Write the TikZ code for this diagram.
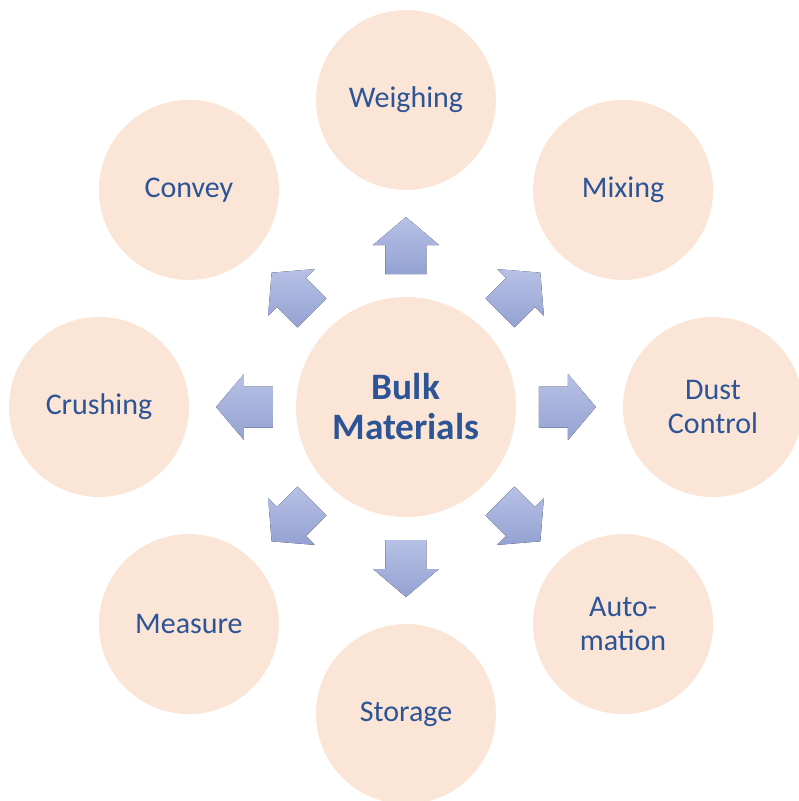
\documentclass[tikz,border=0pt]{standalone}
\usepackage{fontspec}
\setmainfont{Carlito}
\usepackage{tikz}
\definecolor{bulktext}{RGB}{44,84,150}
\definecolor{bulkfill}{RGB}{251,229,214}
\definecolor{arrowtop}{RGB}{183,193,230}
\definecolor{arrowbot}{RGB}{148,162,210}
\tikzset{
    topic/.style={circle, fill=bulkfill, minimum size=135pt, inner sep=0pt, align=center,
        text=bulktext, font=\fontsize{22.5}{25}\selectfont},
    hub/.style={topic, minimum size=165pt, font=\fontsize{28}{30}\selectfont\bfseries},
    blockarrow/.style={top color=arrowtop, bottom color=arrowbot, draw=none}
}
\begin{document}
\begin{tikzpicture}[x=0.75pt, y=0.75pt]
                \useasboundingbox (-406, -394) rectangle (393, 407);
                \node[hub] (bulk) at (0, 0) {Bulk\\Materials};
                \foreach \ang/\name/\txt in {90/weigh/Weighing, 45/mix/Mixing, 0/dust/{Dust\\Control},
                        -45/auto/{Auto-\\mation}, -90/store/Storage, -135/measure/Measure,
                        180/crush/Crushing, 135/convey/Convey} {
                    \node[topic] (\name) at (\ang:307) {\txt};
                    \fill[blockarrow, rotate=\ang] (133, -20.5) -- (162, -20.5) -- (162, -33) -- (190, 0)
                        -- (162, 33) -- (162, 20.5) -- (133, 20.5) -- cycle;
                }
            \end{tikzpicture}
\end{document}
